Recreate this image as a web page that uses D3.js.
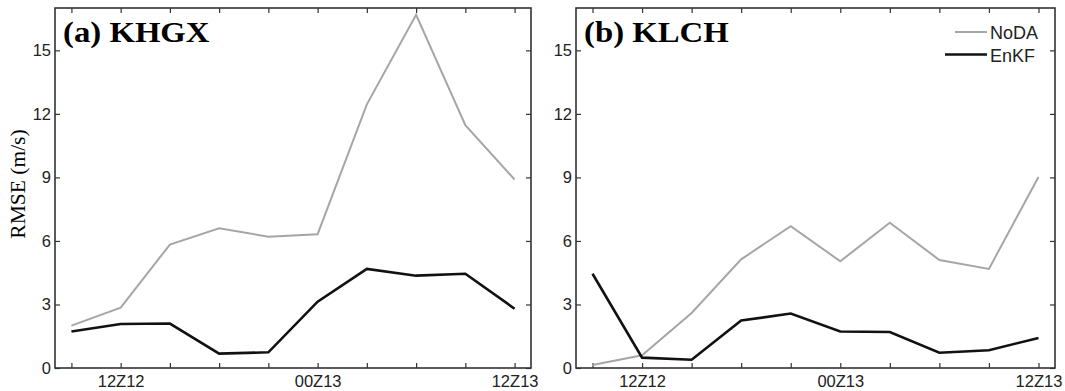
<!DOCTYPE html>
<html>
<head>
<meta charset="utf-8">
<script src="https://d3js.org/d3.v7.min.js"></script>
<style>
  body { margin: 0; background: #fff; }
  .tick text { font-family: "Liberation Sans", Arial, sans-serif; font-size: 16.5px; fill: #222; }
  .tick line { stroke: #333; stroke-width: 1.2; }
</style>
</head>
<body>
<div id="chart"></div>
<script>
// 3-hourly times 09Z12 ... 12Z13, labelled every 12 h
var steps = [0, 1, 2, 3, 4, 5, 6, 7, 8, 9];
var stepLabels = {1: "12Z12", 5: "00Z13", 9: "12Z13"};
var yTicks = [0, 3, 6, 9, 12, 15];

var khgxNoDA = [2.0, 2.85, 5.83, 6.6, 6.2, 6.32, 12.45, 16.68, 11.47, 8.9];
var khgxEnKF = [1.72, 2.08, 2.1, 0.68, 0.74, 3.13, 4.68, 4.36, 4.45, 2.8];
var klchNoDA = [0.14, 0.6, 2.6, 5.13, 6.7, 5.04, 6.86, 5.1, 4.68, 9.02];
var klchEnKF = [4.45, 0.49, 0.39, 2.24, 2.57, 1.72, 1.7, 0.72, 0.84, 1.42];

var seriesNames = ["NoDA", "EnKF"];
var seriesColor = {NoDA: "#a6a6a6", EnKF: "#111"};
var seriesWidth = {NoDA: 2, EnKF: 2.6};

var panels = [
  {title: "(a) KHGX", left: 55, right: 531, NoDA: khgxNoDA, EnKF: khgxEnKF, ylabel: true, legend: false},
  {title: "(b) KLCH", left: 576, right: 1055, NoDA: klchNoDA, EnKF: klchEnKF, ylabel: false, legend: true}
];

var W = 1065, H = 391, plotTop = 8, plotBottom = 368;

var svg = d3.select("#chart").append("svg")
  .attr("width", W).attr("height", H);

var y = d3.scaleLinear().domain([0, 17]).range([plotBottom, plotTop]);

panels.forEach(function(p) {
  var x = d3.scaleLinear().domain([-1/3, 9 + 1/3]).range([p.left, p.right]);
  var g = svg.append("g");

  // bottom axis: ticks every step, labels every 12 h
  g.append("g")
    .attr("transform", "translate(0," + plotBottom + ")")
    .call(d3.axisBottom(x).tickValues(steps).tickSizeInner(-5).tickSizeOuter(0).tickPadding(7)
      .tickFormat(function(d) { return stepLabels[d] || ""; }))
    .call(function(a) { a.select(".domain").remove(); });

  // top axis, ticks only
  g.append("g")
    .attr("transform", "translate(0," + plotTop + ")")
    .call(d3.axisTop(x).tickValues(steps).tickSizeInner(-5).tickSizeOuter(0).tickFormat(""))
    .call(function(a) { a.select(".domain").remove(); });

  g.append("g")
    .attr("transform", "translate(" + p.left + ",0)")
    .call(d3.axisLeft(y).tickValues(yTicks).tickSizeInner(-5).tickSizeOuter(0).tickPadding(4))
    .call(function(a) { a.select(".domain").remove(); });

  g.append("g")
    .attr("transform", "translate(" + p.right + ",0)")
    .call(d3.axisRight(y).tickValues(yTicks).tickSizeInner(-5).tickSizeOuter(0).tickFormat(""))
    .call(function(a) { a.select(".domain").remove(); });

  // lines
  var line = d3.line()
    .x(function(d, i) { return x(steps[i]); })
    .y(function(d) { return y(d); });

  seriesNames.forEach(function(s) {
    g.append("path")
      .datum(p[s])
      .attr("d", line)
      .attr("fill", "none")
      .attr("stroke", seriesColor[s])
      .attr("stroke-width", seriesWidth[s])
      .attr("stroke-linejoin", "miter");
  });

  // frame
  g.append("rect")
    .attr("x", p.left).attr("y", plotTop)
    .attr("width", p.right - p.left).attr("height", plotBottom - plotTop)
    .attr("fill", "none").attr("stroke", "#333").attr("stroke-width", 1.6);

  // title, a bit wider than the plain font
  g.append("text")
    .attr("transform", "translate(" + (p.left + 8) + ",42) scale(1.15,1)")
    .style("font-family", "'Liberation Serif', 'Times New Roman', serif")
    .style("font-weight", "bold").style("font-size", "28.5px")
    .text(p.title);

  if (p.ylabel) {
    g.append("text")
      .attr("transform", "translate(25,184) rotate(-90)")
      .style("text-anchor", "middle")
      .style("font-family", "'Liberation Serif', 'Times New Roman', serif")
      .style("font-size", "21.5px")
      .text("RMSE (m/s)");
  }

  if (p.legend) {
    var legendY = [32, 54.5], legendX1 = [955, 945];
    seriesNames.forEach(function(s, i) {
      g.append("line")
        .attr("x1", legendX1[i]).attr("x2", 987)
        .attr("y1", legendY[i]).attr("y2", legendY[i])
        .attr("stroke", seriesColor[s]).attr("stroke-width", seriesWidth[s]);
      g.append("text")
        .attr("x", 990).attr("y", legendY[i] + 7)
        .style("font-family", "'Liberation Sans', Arial, sans-serif")
        .style("font-size", "18px").style("fill", "#222")
        .text(s);
    });
  }
});
</script>
</body>
</html>
